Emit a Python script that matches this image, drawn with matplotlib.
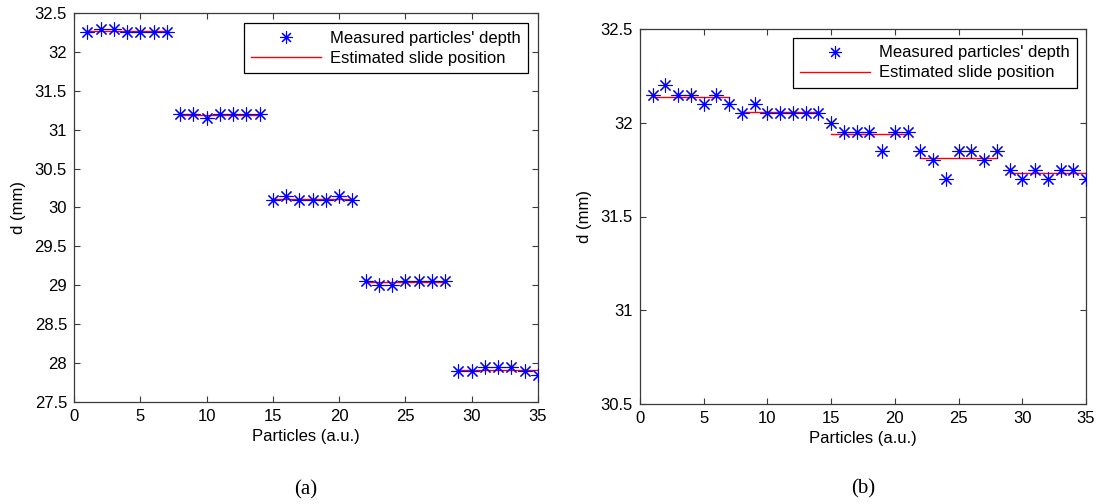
import matplotlib
matplotlib.use("Agg")
import matplotlib.pyplot as plt
from matplotlib.ticker import FormatStrFormatter, MultipleLocator

plt.rcParams.update(
    {
        "font.family": ["Liberation Sans", "DejaVu Sans"],
        "font.size": 12,
        "axes.linewidth": 0.9,
        "axes.edgecolor": "#3a3a3a",
    }
)

particles = list(range(1, 36))

# panel (a): measured depth per particle (mm)
depth_a = [
    32.25, 32.30, 32.30, 32.25, 32.25, 32.25, 32.25,
    31.20, 31.20, 31.15, 31.20, 31.20, 31.20, 31.20,
    30.10, 30.15, 30.10, 30.10, 30.10, 30.15, 30.10,
    29.05, 29.00, 29.00, 29.05, 29.05, 29.05, 29.05,
    27.90, 27.90, 27.95, 27.95, 27.95, 27.90, 27.85,
]
# estimated slide position per group of 7 particles
seg_start = [1, 8, 15, 22, 29]
seg_end = [7, 14, 21, 28, 35]
slide_a = [32.27, 31.19, 30.11, 29.04, 27.91]

# panel (b)
depth_b = [
    32.15, 32.20, 32.15, 32.15, 32.10, 32.15, 32.10,
    32.05, 32.10, 32.05, 32.05, 32.05, 32.05, 32.05,
    32.00, 31.95, 31.95, 31.95, 31.85, 31.95, 31.95,
    31.85, 31.80, 31.70, 31.85, 31.85, 31.80, 31.85,
    31.75, 31.70, 31.75, 31.70, 31.75, 31.75, 31.70,
]
slide_b = [32.14, 32.06, 31.94, 31.81, 31.73]

W, H = 1099, 504
fig = plt.figure(figsize=(W / 100, H / 100), dpi=100)

ax_a = fig.add_axes([74 / W, 1 - 402 / H, 464 / W, 389 / H])
ax_b = fig.add_axes([640 / W, 1 - 404 / H, 446 / W, 375 / H])

star = (8, 2, 0)


def panel(ax, depth, slide, ylim, anchor, caption):
    ax.plot(
        particles, depth, linestyle="none", marker=star, markersize=10,
        markeredgewidth=0.8, color="blue", label="Measured particles' depth", zorder=3,
    )
    for i, (x0, x1, v) in enumerate(zip(seg_start, seg_end, slide)):
        ax.plot(
            [x0, x1], [v, v], color="red", linewidth=1.0, zorder=2,
            label="Estimated slide position" if i == 0 else None,
        )
    ax.set_xlim(0, 35)
    ax.set_ylim(*ylim)
    ax.xaxis.set_major_locator(MultipleLocator(5))
    ax.yaxis.set_major_locator(MultipleLocator(0.5))
    ax.yaxis.set_major_formatter(FormatStrFormatter("%g"))
    ax.tick_params(direction="in", length=4, width=0.8, top=True, right=True,
                   pad=5, labelsize=12, color="#3a3a3a")
    ax.set_xlabel("Particles (a.u.)", fontsize=12, labelpad=4)
    ax.set_ylabel("d (mm)", fontsize=12, labelpad=6)
    leg = ax.legend(
        loc="upper right", bbox_to_anchor=anchor, borderaxespad=0,
        fancybox=False, framealpha=1, edgecolor="black", fontsize=12,
        handlelength=4.2, handletextpad=0.5, labelspacing=0.3,
        borderpad=0.45, markerscale=0.9,
    )
    leg.get_frame().set_linewidth(0.9)
    ax.text(0.5, -0.225, caption, transform=ax.transAxes, ha="center", va="center",
            fontsize=15, family=["Liberation Serif", "DejaVu Serif"])


panel(ax_a, depth_a, slide_a, (27.5, 32.5), (0.978, 0.974), "(a)")
panel(ax_b, depth_b, slide_b, (30.5, 32.5), (0.980, 0.976), "(b)")

fig.savefig("out.png", dpi=100, facecolor="white")
